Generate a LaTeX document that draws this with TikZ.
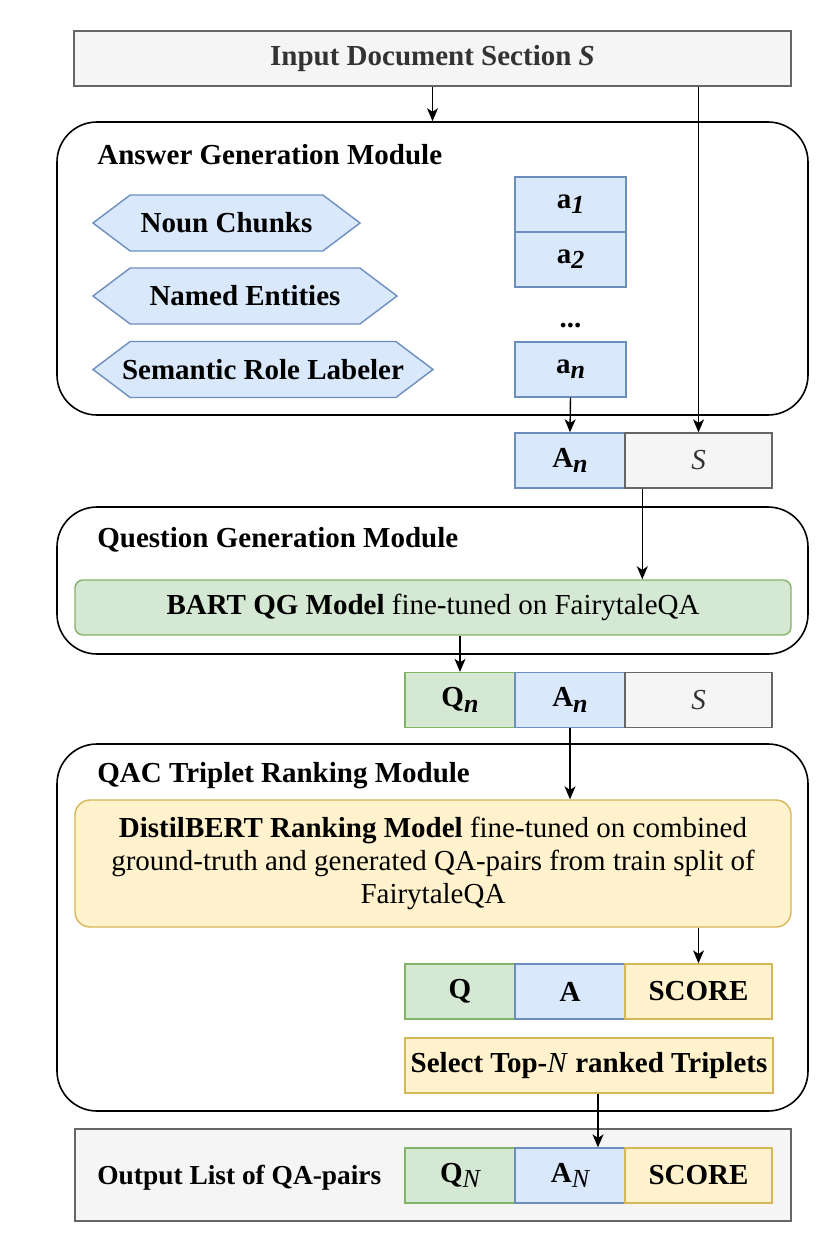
\documentclass[tikz,border=0pt]{standalone}
\usepackage{fontspec}
\setmainfont{Liberation Serif}
\usetikzlibrary{arrows.meta,shapes.symbols}
\definecolor{bluefill}{HTML}{DAE8FC}
\definecolor{blueline}{HTML}{6C8EBF}
\definecolor{greenfill}{HTML}{D5E8D4}
\definecolor{greenline}{HTML}{82B366}
\definecolor{yellowfill}{HTML}{FFF2CC}
\definecolor{yellowline}{HTML}{D6B656}
\definecolor{greyfill}{HTML}{F5F5F5}
\definecolor{greyline}{HTML}{666666}
\definecolor{greytext}{HTML}{333333}
\newcommand{\bodysize}{\fontsize{14.5}{16.3}\selectfont}
\newcommand{\lowidx}[1]{\raisebox{-0.4ex}{\fontsize{13}{13}\selectfont\itshape #1}}
\begin{document}
\begin{tikzpicture}
[x=0.5pt, y=-0.5pt,
 module/.style={draw, line width=0.8pt, rounded corners=20pt, minimum width=375.5pt},
 cell/.style={draw, line width=0.7pt, minimum height=27.5pt, inner sep=0pt, font=\bodysize\bfseries},
 bluecell/.style={cell, draw=blueline, fill=bluefill, minimum width=55pt},
 greencell/.style={cell, draw=greenline, fill=greenfill, minimum width=55pt},
 yellowcell/.style={cell, draw=yellowline, fill=yellowfill},
 greycell/.style={cell, draw=greyline, fill=greyfill, text=greytext},
 hexa/.style={shape=signal, signal to=west and east, signal pointer angle=74, draw=blueline, fill=bluefill, line width=0.7pt, minimum height=28pt, inner ysep=0pt, inner xsep=-5pt, font=\bodysize\bfseries},
 title/.style={anchor=west, inner sep=0pt, font=\bodysize\bfseries},
 arr/.style={-{Stealth[length=6.5pt,width=5.5pt,inset=1.8pt]}, line width=0.7pt}]
\useasboundingbox (0,0) rectangle (832,1249);
% input
\node (in) [greycell, minimum width=358.5pt] at (432.5,58.5) {Input Document Section \textit{S}};
% answer generation
\node (agm) [module, minimum height=146.5pt] at (432.5,268.5) {};
\node (agmt) [title] at (97,155) {Answer Generation Module};
\node (nc) [hexa, minimum width=133.5pt] at (226.5,223) {Noun Chunks};
\node (ne) [hexa, minimum width=152pt] at (245,296) {Named Entities};
\node (srl) [hexa, minimum width=170pt] at (263,369.5) {Semantic Role Labeler};
\node (a1) [bluecell, minimum width=55.5pt] at (570.5,204.5) {a\lowidx{1}};
\node (a2) [bluecell, minimum width=55.5pt] at (570.5,259.5) {a\lowidx{2}};
\node (dots) [anchor=base, font=\bodysize\bfseries] at (570.5,327) {...};
\node (an) [bluecell, minimum width=55.5pt] at (570.5,369.5) {a\lowidx{n}};
\node (an1) [bluecell] at (570,460.5) {A\lowidx{n}};
\node (s1) [greycell, minimum width=73.5pt, font=\bodysize] at (698.5,460.5) {\textit{S}};
% question generation
\node (qgm) [module, minimum height=73.5pt] at (432.5,580.5) {};
\node (qgmt) [title] at (97,540) {Question Generation Module};
\node (bart) [cell, draw=greenline, fill=greenfill, rounded corners=4pt, minimum width=358pt, font=\bodysize] at (433,607.5) {\textbf{BART QG Model} fine-tuned on FairytaleQA};
\node (qn) [greencell] at (460,700) {Q\lowidx{n}};
\node (an2) [bluecell] at (570,700) {A\lowidx{n}};
\node (s2) [greycell, minimum width=73.5pt, font=\bodysize] at (698.5,700) {\textit{S}};
% ranking
\node (qac) [module, minimum height=183.5pt] at (432.5,927.5) {};
\node (qact) [title] at (97,776) {QAC Triplet Ranking Module};
\node (distil) [cell, draw=yellowline, fill=yellowfill, rounded corners=7.5pt, minimum width=358pt, minimum height=63.5pt, align=center, font=\bodysize] at (433,863.5) {\textbf{DistilBERT Ranking Model} fine-tuned on combined\\ground-truth and generated QA-pairs from train split of\\FairytaleQA};
\node (q) [greencell] at (460,991.5) {Q};
\node (a) [bluecell] at (570,991.5) {A};
\node (sc1) [yellowcell, minimum width=73.5pt] at (698.5,991.5) {SCORE};
\node (sel) [yellowcell, minimum width=184pt] at (589,1065.5) {Select Top-\textit{\mdseries N} ranked Triplets};
% output
\node (out) [greycell, minimum width=358pt, minimum height=46pt] at (433,1175) {};
\node (outt) [title, font=\fontsize{13.7}{15}\selectfont\bfseries] at (97,1178) {Output List of QA-pairs};
\node (qN) [greencell] at (460,1175.5) {Q\lowidx{\mdseries N}};
\node (aN) [bluecell] at (570,1175.5) {A\lowidx{\mdseries N}};
\node (sc2) [yellowcell, minimum width=73.5pt] at (698.5,1175.5) {SCORE};
% connectors
\draw[arr] (in.south) -- (agm.north);
\draw[arr] (in.south -| s1.north) -- (s1.north);
\draw[arr] (an.south) -- (an1.north);
\draw[arr] ([xshift=9pt]s1.south west) -- ([xshift=9pt]s1.south west |- bart.north);
\draw[arr] (bart.south -| qn.north) -- (qn.north);
\draw[arr] (an2.south) -- (an2.south |- distil.north);
\draw[arr] (distil.south -| sc1.north) -- (sc1.north);
\draw[arr] ([xshift=4.5pt]sel.south) -- ([xshift=4.5pt]sel.south |- aN.north);
\end{tikzpicture}
\end{document}
